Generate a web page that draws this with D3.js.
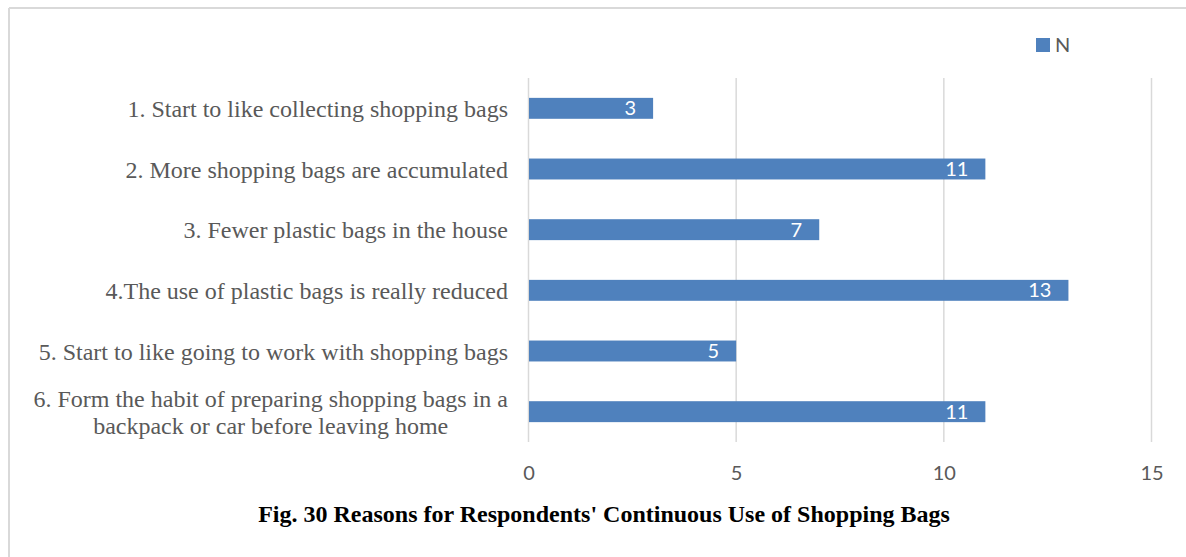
<!DOCTYPE html>
<html>
<head>
<meta charset="utf-8">
<script src="https://cdn.jsdelivr.net/npm/d3@7"></script>
<style>
  html, body { margin: 0; padding: 0; background: #fff; }
  svg { display: block; }
</style>
</head>
<body>
<svg id="chart" width="1186" height="557"></svg>
<script>
// Survey reasons (top to bottom) and respondent counts
const categories = [
  "1. Start to like collecting shopping bags",
  "2. More shopping bags are accumulated",
  "3. Fewer plastic bags in the house",
  "4.The use of plastic bags is really reduced",
  "5. Start to like going to work with shopping bags",
  "6. Form the habit of preparing shopping bags in a|backpack or car before leaving home"
];
const values = [3, 11, 7, 13, 5, 11];
const tickValues = [0, 5, 10, 15];
const seriesName = "N";
const title = "Fig. 30 Reasons for Respondents' Continuous Use of Shopping Bags";

const svg = d3.select("#chart");
const barColor = "#4f81bd";
const textGray = "#595959";
const gridColor = "#d9d9d9";

// frame lines along top and left
svg.append("line").attr("x1", 9).attr("x2", 1186).attr("y1", 8).attr("y2", 8)
  .attr("stroke", gridColor).attr("stroke-width", 2);
svg.append("line").attr("x1", 9).attr("x2", 9).attr("y1", 8).attr("y2", 557)
  .attr("stroke", gridColor).attr("stroke-width", 2);

const x = d3.scaleLinear().domain([0, 15]).range([528.5, 1151.5]);
const y = d3.scaleBand().domain(categories).range([78, 442])
  .paddingInner(0.655).paddingOuter(0.3275);

// vertical gridlines
svg.append("g").selectAll("line").data(tickValues).join("line")
  .attr("x1", d => x(d)).attr("x2", d => x(d))
  .attr("y1", 78).attr("y2", 442)
  .attr("stroke", gridColor).attr("stroke-width", 1.5);

// bars
svg.append("g").selectAll("rect").data(values).join("rect")
  .attr("x", x(0) + 0.5)
  .attr("y", (d, i) => y(categories[i]))
  .attr("width", d => x(d) - x(0) - 0.5)
  .attr("height", y.bandwidth())
  .attr("fill", barColor);

// value labels inside bar ends
svg.append("g").selectAll("text").data(values).join("text")
  .attr("x", d => x(d) - 17)
  .attr("y", (d, i) => y(categories[i]) + y.bandwidth() / 2 + 7)
  .attr("text-anchor", "end")
  .attr("font-family", "Lato, sans-serif")
  .attr("font-size", 20)
  .attr("fill", "#fff")
  .text(d => d);

// x-axis tick labels
const xAxis = d3.axisBottom(x).tickValues(tickValues).tickSize(0).tickPadding(0);
const gx = svg.append("g").attr("transform", "translate(0,462)").call(xAxis);
gx.select(".domain").remove();
gx.selectAll("text")
  .attr("font-family", "Lato, sans-serif")
  .attr("font-size", 20)
  .attr("fill", textGray)
  .attr("dy", "0.9em");

// category labels, right-aligned at the plot's left edge; wrapped labels centered as a block
const labelRight = 508;
const catG = svg.append("g");
categories.forEach((c, i) => {
  const lines = c.split("|");
  const cy = y(c) + y.bandwidth() / 2;
  const lineH = 27.3;
  const t = catG.append("text")
    .attr("font-family", "'Liberation Serif', 'Times New Roman', serif")
    .attr("font-size", 24)
    .attr("fill", textGray);
  const spans = lines.map((ln, k) => t.append("tspan").text(ln)
    .attr("y", cy + 8.5 + (k - (lines.length - 1) / 2) * lineH));
  const widths = spans.map(s => s.node().getComputedTextLength());
  const maxW = d3.max(widths);
  const center = labelRight - maxW / 2;
  spans.forEach(s => s.attr("x", center).attr("text-anchor", "middle"));
});

// legend
svg.append("rect").attr("x", 1036).attr("y", 38).attr("width", 14).attr("height", 14)
  .attr("fill", barColor);
svg.append("text").attr("x", 1055).attr("y", 51.5)
  .attr("font-family", "Lato, sans-serif").attr("font-size", 20)
  .attr("fill", textGray).text(seriesName);

// caption
svg.append("text").attr("x", 604).attr("y", 522)
  .attr("text-anchor", "middle")
  .attr("font-family", "'Liberation Serif', 'Times New Roman', serif")
  .attr("font-weight", "bold").attr("font-size", 24)
  .attr("fill", "#000").text(title);
</script>
</body>
</html>
